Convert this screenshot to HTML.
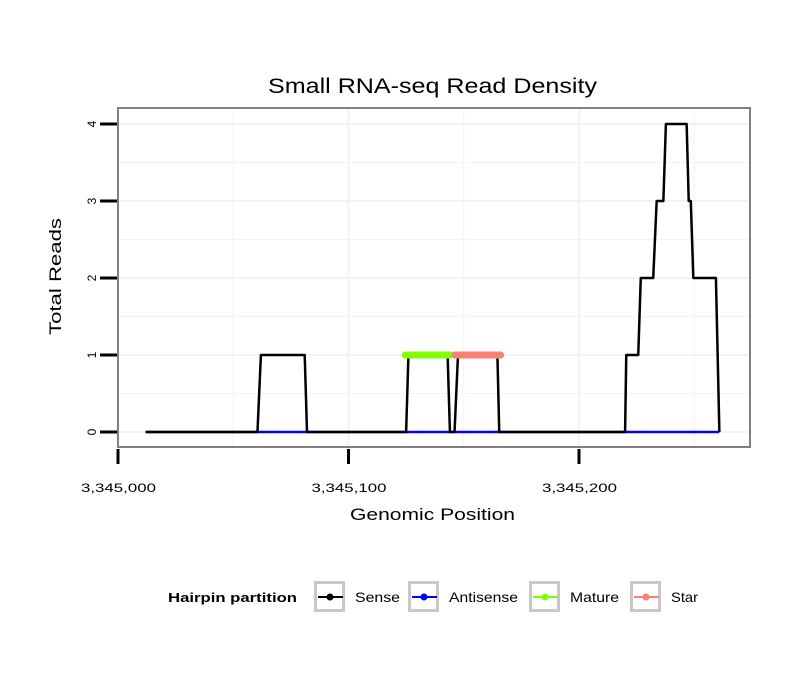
<!DOCTYPE html>
<html><head><meta charset="utf-8"><style>body{margin:0;background:#fff}svg{display:block;font-family:"Liberation Sans",sans-serif}</style></head>
<body>
<svg id="chart" width="810" height="690" viewBox="0 0 810 690">
<rect x="0" y="0" width="810" height="690" fill="#fff"/>
<text x="268" y="93" font-size="21" textLength="329" lengthAdjust="spacingAndGlyphs">Small RNA-seq Read Density</text>
<g id="grid"></g>
<g id="marks"></g>
<rect x="118" y="108" width="632" height="339" fill="none" stroke="#808080" stroke-width="2"/>
<g id="axes"></g>
<text x="350" y="520" font-size="17" textLength="165" lengthAdjust="spacingAndGlyphs">Genomic Position</text>
<text transform="translate(61,335) rotate(-90)" font-size="17" textLength="117" lengthAdjust="spacingAndGlyphs">Total Reads</text>
<g>
<text x="168" y="602" font-size="13" font-weight="bold" textLength="129" lengthAdjust="spacingAndGlyphs">Hairpin partition</text>
<g id="legend"></g>
</g>
</svg>
<script>
const senseX=[12,60.5,62,81,82,125,126,143,144,146,147.5,164.6,165.4,220,220.5,225.7,226.8,232.2,233.7,236.6,237.7,246.7,247.6,248.5,249.6,259.4,260.9];
const senseY=[0,0,1,1,0,0,1,1,0,0,1,1,0,0,1,1,2,2,3,3,4,4,3,3,2,2,0];
const antisenseX=[12,260.9];
const antisenseY=[0,0];
const matureX=[124.7,144.3];
const matureY=[1,1];
const starX=[146.2,166];
const starY=[1,1];
const xTicks=[0,100,200];
const xTickLabels=["3,345,000","3,345,100","3,345,200"];
const yTicks=[0,1,2,3,4];
const legendLabels=["Sense","Antisense","Mature","Star"];
const legendColors=["#000000","#0000ff","#7fff00","#fa8072"];

const NS="http://www.w3.org/2000/svg";
const sx=v=>118+v*2.305;
const sy=v=>432-v*77;
function mk(tag,attrs,parent){const e=document.createElementNS(NS,tag);for(const k in attrs)e.setAttribute(k,attrs[k]);parent.appendChild(e);return e;}
const grid=document.getElementById('grid'),marks=document.getElementById('marks'),axes=document.getElementById('axes'),legend=document.getElementById('legend');
for(let v=-0.5;v<=4.5;v+=0.5){const y=sy(v);if(y<109||y>446)continue;
 const l=mk('line',{x1:119,x2:749,y1:y,y2:y,stroke:'#f3f3f3','stroke-width':v%1===0?2:1},grid);
 
 }
for(let v=0;v<=250;v+=50){const x=sx(v);if(x<119||x>749)continue;
 const l=mk('line',{x1:x,x2:x,y1:109,y2:446,stroke:'#f3f3f3','stroke-width':v%100===0?2:1},grid);
 
 }
function pts(xs,ys){return xs.map((x,i)=>sx(x)+','+sy(ys[i])).join(' ');}
const a=mk('polyline',{points:pts(antisenseX,antisenseY),fill:'none',stroke:'#0000ff','stroke-width':2.5},marks);


const s=mk('polyline',{points:pts(senseX,senseY),fill:'none',stroke:'#000','stroke-width':2.5,'stroke-linejoin':'round'},marks);


const m=mk('polyline',{points:pts(matureX,matureY),fill:'none',stroke:'#7fff00','stroke-width':7,'stroke-linecap':'round'},marks);


const st=mk('polyline',{points:pts(starX,starY),fill:'none',stroke:'#fa8072','stroke-width':7,'stroke-linecap':'round'},marks);


xTicks.forEach((v,i)=>{const x=sx(v);
 const t=mk('line',{x1:x,x2:x,y1:449,y2:464,stroke:'#000','stroke-width':3},axes);
 
 
 const tx=mk('text',{x:x-37,y:492,'font-size':12,textLength:75,lengthAdjust:'spacingAndGlyphs'},axes);tx.textContent=xTickLabels[i];
 
 });
yTicks.forEach(v=>{const y=sy(v);
 const t=mk('line',{x1:100,x2:117,y1:y,y2:y,stroke:'#000','stroke-width':3},axes);
 
 
 const tx=mk('text',{transform:`translate(96,${y}) rotate(-90)`,'font-size':12,'text-anchor':'middle'},axes);tx.textContent=v;
 
 });
const bx=[314,408,529,630];
const lw=[45,69,49,27];
legendLabels.forEach((lab,i)=>{const x=bx[i];
 const g=mk('g',{},legend);
 
 
 mk('rect',{x:x+1.5,y:582.5,width:28,height:28,fill:'#fff',stroke:'#c8c8c8','stroke-width':3},g);
 mk('line',{x1:x+4,x2:x+29,y1:597,y2:597,stroke:legendColors[i],'stroke-width':2},g);
 mk('circle',{cx:x+16,cy:597,r:3.5,fill:legendColors[i]},g);
 const t=mk('text',{x:x+41,y:602,'font-size':14,textLength:lw[i],lengthAdjust:'spacingAndGlyphs'},g);t.textContent=lab;});
</script>
</body></html>
